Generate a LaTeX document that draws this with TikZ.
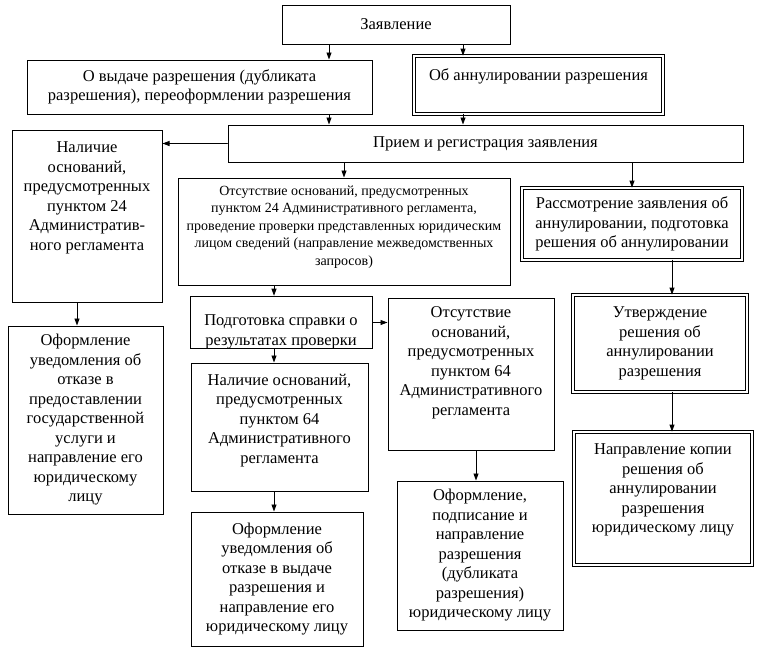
\documentclass[tikz,border=0pt]{standalone}
\usepackage{fontspec}
\setmainfont{Liberation Serif}
\usetikzlibrary{arrows.meta}
\newcommand{\celltext}[4][c]{\parbox[c][#3][#1]{#2}{\centering #4}}

\begin{document}
\begin{tikzpicture}[x=1pt,y=-1pt,line cap=round,
  box/.style={draw,line width=1pt,inner sep=0pt,font=\fontsize{16.5}{19.5}\selectfont},
  dbox/.style={box,double,double distance=1.8pt,line width=0.8pt},
  small/.style={font=\fontsize{14}{17.5}\selectfont},
  arr/.style={line width=0.9pt,-{Triangle[length=7pt,width=5pt]}}]
  \useasboundingbox (0,0) rectangle (760,653);
  \coordinate (a1) at (329,0);
  \coordinate (a2) at (463,0);
  \coordinate (a3) at (274,0);
  \coordinate (a4) at (672,0);
  \coordinate (a5) at (77,0);
  \coordinate (a6) at (476,0);
  \node[box] (zayav) at (396,24.5) {\celltext{228pt}{39pt}{Заявление}};
  \node[box] (vydacha) at (199.5,87) {\celltext{345pt}{54pt}{О выдаче разрешения (дубликата\\разрешения), переоформлении разрешения}};
  \node[dbox] (annul) at (538.5,85) {\celltext[t]{249pt}{58pt}{\vspace*{13pt}Об аннулировании разрешения}};
  \node[box] (priem) at (485.5,143.5) {\celltext{515pt}{37pt}{Прием и регистрация заявления}};
  \node[box] (nal24) at (87,216) {\celltext[t]{150pt}{172pt}{\vspace*{12pt}Наличие\\оснований,\\предусмотренных\\пунктом 24\\Административ-\\ного регламента}};
  \node[box,small] (ots24) at (344,231.5) {\celltext[t]{332pt}{107pt}{\vspace*{7.5pt}Отсутствие оснований, предусмотренных\\пунктом 24 Административного регламента,\\проведение проверки представленных юридическим\\лицом сведений (направление межведомственных\\запросов)}};
  \node[dbox] (rassm) at (632,224) {\celltext{220pt}{72pt}{Рассмотрение заявления об\\аннулировании, подготовка\\решения об аннулировании}};
  \node[box] (podg) at (281,322.5) {\celltext[b]{182pt}{49pt}{Подготовка справки о\\результатах проверки}};
  \node[box] (ots64) at (471,374) {\celltext[t]{166pt}{152pt}{\vspace*{9pt}Отсутствие\\оснований,\\предусмотренных\\пунктом 64\\Административного\\регламента}};
  \node[dbox] (utv) at (660,343.5) {\celltext{174pt}{97pt}{Утверждение\\решения об\\аннулировании\\разрешения}};
  \node[dbox] (napr) at (663,498.5) {\celltext[t]{178pt}{133pt}{\vspace*{12pt}Направление копии\\решения об\\аннулировании\\разрешения\\юридическому лицу}};
  \node[box] (ofleft) at (85.5,420) {\celltext{155pt}{188pt}{Оформление\\уведомления об\\отказе в\\предоставлении\\государственной\\услуги и\\направление его\\юридическому\\лицу}};
  \node[box] (nal64) at (279.5,427) {\celltext[t]{177pt}{128pt}{\vspace*{11pt}Наличие оснований,\\предусмотренных\\пунктом 64\\Административного\\регламента}};
  \node[box] (ofvyd) at (277,579) {\celltext{172pt}{134pt}{Оформление\\уведомления об\\отказе в выдаче\\разрешения и\\направление его\\юридическому лицу}};
  \node[box] (ofpodp) at (480,555.5) {\celltext{166pt}{149pt}{Оформление,\\подписание и\\направление\\разрешения\\(дубликата\\разрешения)\\юридическому лицу}};
  \draw[arr] (a1 |- zayav.south) -- (a1 |- vydacha.north);
  \draw[arr] (a2 |- zayav.south) -- (a2 |- annul.north);
  \draw[arr] (a1 |- vydacha.south) -- (a1 |- priem.north);
  \draw[arr] (a2 |- annul.south) -- (a2 |- priem.north);
  \draw[arr] (priem.west) -- (priem.west -| nal24.east);
  \draw[arr] (ots24.north |- priem.south) -- (ots24.north);
  \draw[arr] (rassm.north |- priem.south) -- (rassm.north);
  \draw[arr] (a3 |- ots24.south) -- (a3 |- podg.north);
  \draw[arr] (podg.east) -- (podg.east -| ots64.west);
  \draw[arr] (a4 |- rassm.south) -- (a4 |- utv.north);
  \draw[arr] (a4 |- utv.south) -- (a4 |- napr.north);
  \draw[arr] (a5 |- nal24.south) -- (a5 |- ofleft.north);
  \draw[arr] (a3 |- podg.south) -- (a3 |- nal64.north);
  \draw[arr] (a3 |- nal64.south) -- (a3 |- ofvyd.north);
  \draw[arr] (a6 |- ots64.south) -- (a6 |- ofpodp.north);
\end{tikzpicture}
\end{document}
